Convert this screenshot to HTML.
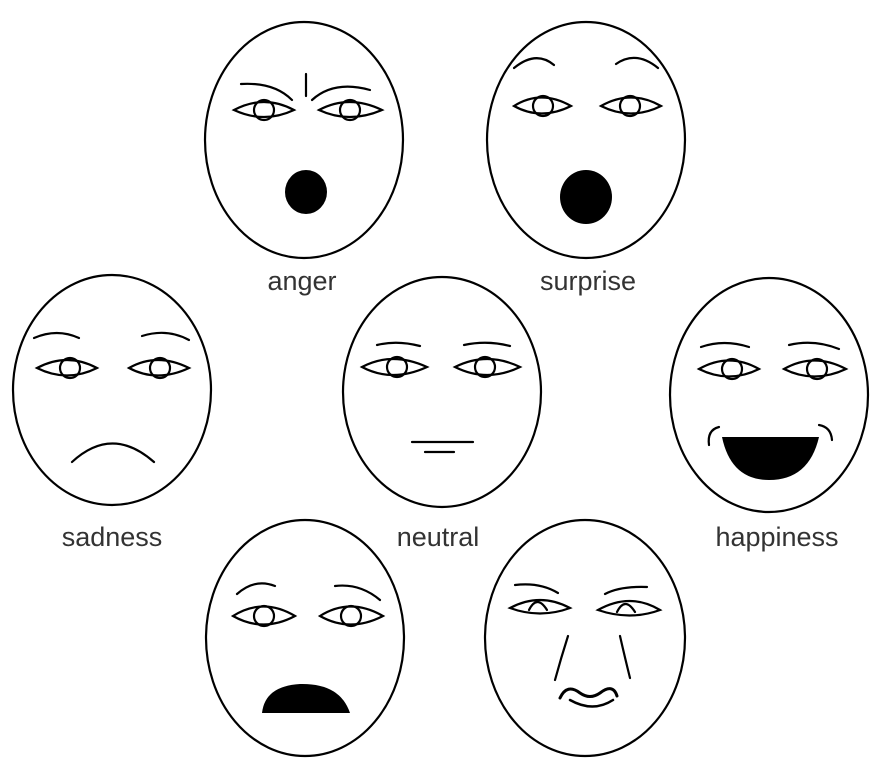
<!DOCTYPE html>
<html><head><meta charset="utf-8"><style>
html,body{margin:0;padding:0;background:#fff;}
svg{display:block;}
text{font-family:"Liberation Sans",sans-serif;font-size:27px;fill:#333;stroke:none;text-anchor:middle;}
</style></head><body>
<svg id="s" width="887" height="775" viewBox="0 0 887 775">
<g fill="none" stroke="#000" stroke-width="2.2" stroke-linecap="round">
<g transform="translate(304,140)">
 <ellipse rx="99" ry="118" fill="#fff"/>
 <path d="M-63,-56 Q-30,-58 -12,-40"/><path d="M66,-50 Q30,-60 8,-40"/><path d="M2,-66 V-44"/>
 <path d="M-70,-30 Q-40,-46 -10,-30 Q-40,-16 -70,-30Z"/><circle cx="-40" cy="-30" r="10"/>
 <path d="M15,-30 Q45,-46 78,-30 Q45,-16 15,-30Z"/><circle cx="46" cy="-30" r="10"/>
 <ellipse cx="2" cy="52" rx="21" ry="22" fill="#000" stroke="none"/>
</g>
<g transform="translate(586,140)">
 <ellipse rx="99" ry="118" fill="#fff"/>
 <path d="M-72,-72 Q-50,-90 -32,-75"/><path d="M30,-76 Q50,-90 72,-72"/>
 <path d="M-72,-34 Q-45,-51 -15,-34 Q-45,-19 -72,-34Z"/><circle cx="-43" cy="-34" r="10"/>
 <path d="M15,-34 Q45,-51 75,-34 Q45,-19 15,-34Z"/><circle cx="44" cy="-34" r="10"/>
 <ellipse cx="0" cy="57" rx="26" ry="27" fill="#000" stroke="none"/>
</g>
<g transform="translate(112,390)">
 <ellipse rx="99" ry="115" fill="#fff"/>
 <path d="M-78,-52 Q-55,-62 -33,-52"/><path d="M30,-54 Q55,-62 77,-50"/>
 <path d="M-75,-22 Q-45,-38 -15,-22 Q-45,-7 -75,-22Z"/><circle cx="-42" cy="-22" r="10"/>
 <path d="M17,-22 Q45,-38 77,-22 Q45,-7 17,-22Z"/><circle cx="48" cy="-22" r="10"/>
 <path d="M-40,72 Q0,35 42,72"/>
</g>
<g transform="translate(442,392)">
 <ellipse rx="99" ry="115" fill="#fff"/>
 <path d="M-65,-47 Q-45,-52 -22,-46"/><path d="M22,-47 Q45,-52 68,-46"/>
 <path d="M-80,-25 Q-50,-41 -15,-25 Q-50,-9 -80,-25Z"/><circle cx="-45" cy="-25" r="10"/>
 <path d="M13,-25 Q45,-41 78,-25 Q45,-9 13,-25Z"/><circle cx="43" cy="-25" r="10"/>
 <path d="M-30,50 H31"/><path d="M-17,60 H12"/>
</g>
<g transform="translate(769,395)">
 <ellipse rx="99" ry="117" fill="#fff"/>
 <path d="M-68,-48 Q-45,-56 -20,-48"/><path d="M20,-50 Q45,-56 70,-46"/>
 <path d="M-70,-26 Q-40,-43 -10,-26 Q-40,-11 -70,-26Z"/><circle cx="-37" cy="-26" r="10"/>
 <path d="M15,-26 Q45,-43 77,-26 Q45,-11 15,-26Z"/><circle cx="48" cy="-26" r="10"/>
 <path d="M-60,50 Q-62,35 -50,32"/><path d="M50,30 Q62,32 63,45"/>
 <path d="M-47,42 H50 Q40,85 0,85 Q-38,85 -47,42Z" fill="#000" stroke="none"/>
</g>
<g transform="translate(305,638)">
 <ellipse rx="99" ry="118" fill="#fff"/>
 <path d="M-68,-44 Q-50,-60 -30,-52"/><path d="M30,-52 Q55,-55 75,-38"/>
 <path d="M-72,-22 Q-42,-41 -10,-22 Q-42,-5 -72,-22Z"/><circle cx="-41" cy="-22" r="10"/>
 <path d="M15,-22 Q45,-41 78,-22 Q45,-5 15,-22Z"/><circle cx="46" cy="-22" r="10"/>
 <path d="M-43,75 Q-40,48 -5,46 Q35,45 45,75 Z" fill="#000" stroke="none"/>
</g>
<g transform="translate(585,638)">
 <ellipse rx="100" ry="118" fill="#fff"/>
 <path d="M-70,-53 Q-45,-56 -27,-45"/><path d="M20,-44 Q35,-52 62,-51"/>
 <path d="M-75,-30 Q-45,-46 -15,-30 Q-45,-19 -75,-30Z"/><path d="M-56,-28 Q-48,-44 -38,-28"/>
 <path d="M13,-28 Q45,-46 75,-28 Q45,-17 13,-28Z"/><path d="M32,-26 Q40,-42 50,-26"/>
 <path d="M-17,-2 Q-24,20 -30,42"/><path d="M35,-2 Q40,20 45,40"/>
 <path d="M-25,60 Q-18,45 -5,55 Q5,62 15,55 Q28,45 32,58" stroke-width="3"/>
 <path d="M-15,62 Q8,75 28,62" stroke-width="2.5"/>
</g>
</g>
<text x="302" y="290">anger</text>
<text x="588" y="290">surprise</text>
<text x="112" y="546">sadness</text>
<text x="438" y="546">neutral</text>
<text x="777" y="546">happiness</text>
</svg>
</body></html>
